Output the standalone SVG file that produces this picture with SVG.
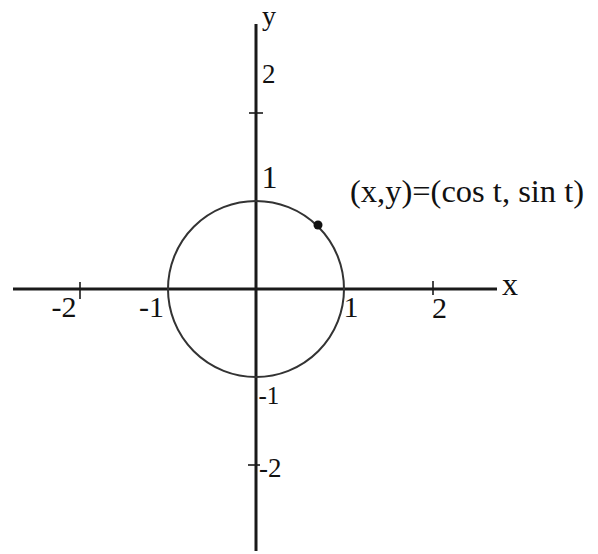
<svg xmlns="http://www.w3.org/2000/svg" width="598" height="554" viewBox="0 0 598 554">
<style>
.axis{stroke:#1a1a1a;stroke-width:3;fill:none}
.tick{stroke:#1a1a1a;stroke-width:1.6;fill:none}
.circ{stroke:#333;stroke-width:2;fill:none}
text{font-family:"Liberation Serif","Times New Roman",serif;fill:#111}
</style>
<rect width="598" height="554" fill="#fff"/>
<g id="connectors">
<line class="axis" x1="13" y1="289" x2="497" y2="289"/>
<line class="axis" x1="256" y1="24" x2="256" y2="551"/>
<line class="tick" x1="80" y1="282" x2="80" y2="299"/>
<line class="tick" x1="433" y1="281" x2="433" y2="295"/>
<line class="tick" x1="249" y1="113" x2="263" y2="113"/>
<line class="tick" x1="248" y1="465" x2="260" y2="465"/>
</g>
<g id="circle">
<circle class="circ" cx="256" cy="289" r="88"/>
</g>
<g id="point">
<circle cx="318" cy="225" r="4.5" fill="#111"/>
<text x="350" y="202" font-size="32.5">(x,y)=(cos t, sin t)</text>
</g>
<g id="labels">
<text x="262" y="25" font-size="28">y</text>
<text x="262" y="83" font-size="27">2</text>
<text x="261.5" y="188" font-size="32">1</text>
<text x="258.5" y="404" font-size="25">-1</text>
<text x="259" y="477" font-size="27">-2</text>
<text x="51.5" y="317" font-size="30">-2</text>
<text x="139" y="317" font-size="30">-1</text>
<text x="343.5" y="317" font-size="30">1</text>
<text x="432" y="318" font-size="30">2</text>
<text x="502" y="295" font-size="32">x</text>
</g>
</svg>
